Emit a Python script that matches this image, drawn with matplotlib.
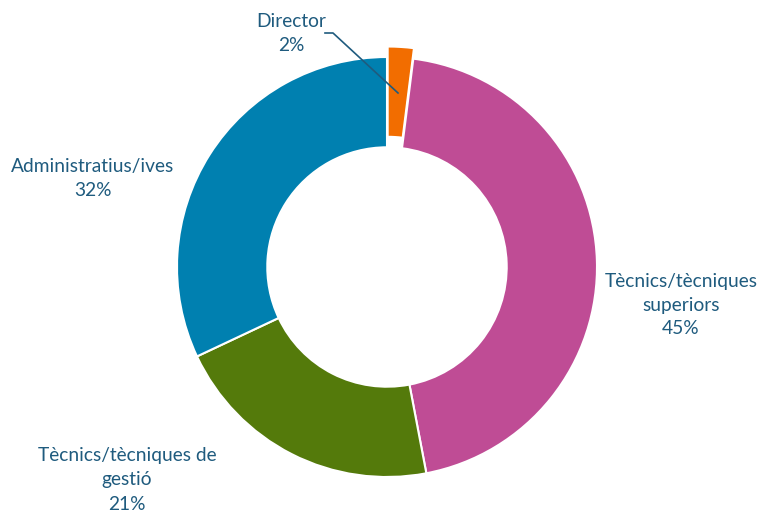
import matplotlib.pyplot as plt

## data ##
categories = ['Director', 'Tècnics/tècniques\nsuperiors', 'Tècnics/tècniques de\ngestió', 'Administratius/ives']
shares = [2, 45, 21, 32]
colors = ['#F26D00', '#BF4C95', '#547A0B', '#0080B0']
explode = [0.05, 0, 0, 0]

text_color = '#1F5B7E'
plt.rcParams['font.family'] = ['Lato', 'DejaVu Sans']

## figure in pixel-ish layout ##
W, H = 758, 517
cx, cy, R = 387, 267, 210

def px(x, y):
    # pixel position -> data coords (radius 1 = outer ring)
    return (x - cx) / R, (cy - y) / R

fig = plt.figure(figsize=(W / 100, H / 100), dpi=100)
ax = fig.add_axes([0, 0, 1, 1])

ax.pie(shares, colors=colors, explode=explode, startangle=90, counterclock=False,
       radius=1, wedgeprops=dict(width=0.43, edgecolor='white', linewidth=1.5))

ax.set_xlim(-cx / R, (W - cx) / R)
ax.set_ylim(-(H - cy) / R, cy / R)
ax.set_aspect('equal')
ax.axis('off')

## labels ##
label_pos = [(291, 33), (681, 305), (127, 480), (93, 178)]
for cat, val, (lx, ly) in zip(categories, shares, label_pos):
    x, y = px(lx, ly)
    ax.text(x, y, f'{cat}\n{val}%', ha='center', va='center', color=text_color,
            fontsize=13.8, linespacing=1.5)

## leader line for Director ##
p0 = px(325, 33)
p1 = px(333, 33)
p2 = px(398, 93)
ax.plot([p0[0], p1[0], p2[0]], [p0[1], p1[1], p2[1]], color=text_color, lw=1.2)

fig.savefig('out.png', dpi=100)
